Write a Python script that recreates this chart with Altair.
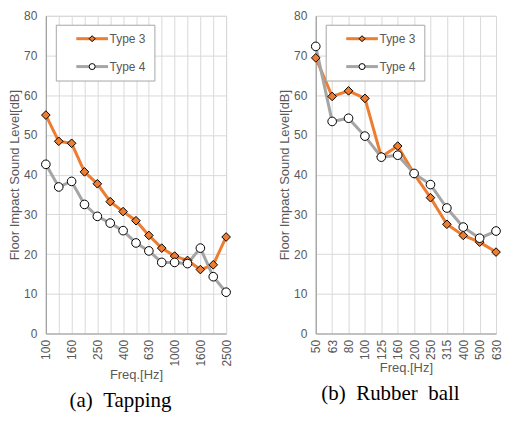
import altair as alt
import pandas as pd

# ---------------- data ----------------
series_names = ["Type 3", "Type 4"]
marker_keys = ["m3", "m4"]

tap_freq = ["100", "125", "160", "200", "250", "315", "400", "500",
            "630", "800", "1000", "1250", "1600", "2000", "2500"]
tap_type3 = [55.0, 48.4, 47.9, 40.7, 37.7, 33.2, 30.7, 28.4,
             24.7, 21.5, 19.5, 18.4, 16.1, 17.3, 24.3]
tap_type4 = [42.6, 36.9, 38.3, 32.5, 29.5, 27.8, 25.9, 22.8,
             20.8, 17.9, 17.9, 17.6, 21.5, 14.3, 10.4]
tap_labels = ["100", "160", "250", "400", "630", "1000", "1600", "2500"]

ball_freq = ["50", "63", "80", "100", "125", "160", "200", "250",
             "315", "400", "500", "630"]
ball_type3 = [69.4, 59.7, 61.1, 59.2, 44.5, 47.2, 40.2, 34.2,
              27.5, 24.7, 23.0, 20.5]
ball_type4 = [72.3, 53.4, 54.2, 49.7, 44.4, 44.9, 40.3, 37.5,
              31.6, 26.8, 24.0, 25.8]

y_ticks = [0, 10, 20, 30, 40, 50, 60, 70, 80]

line_colors = ["#ED7D31", "#A5A5A5"]
marker_fills = ["#ED7D31", "#FFFFFF"]
marker_edges = ["#000000", "#000000"]
marker_shapes = ["diamond", "circle"]

SANS = "Liberation Sans"
SERIF = "Liberation Serif"
TXT = "#595959"
NB = "\u00a0"


def panel(freqs, t3, t4, shown_labels, caption):
    n = len(freqs)
    df = pd.DataFrame({
        "freq": freqs + freqs,
        "level": t3 + t4,
        "series": [series_names[0]] * n + [series_names[1]] * n,
        "marker": [marker_keys[0]] * n + [marker_keys[1]] * n,
    })

    label_list = "[" + ",".join("'" + s + "'" for s in shown_labels) + "]"
    x = alt.X(
        "freq:O", sort=freqs,
        scale=alt.Scale(type="point", padding=0),
        axis=alt.Axis(
            title="Freq.[Hz]", labelAngle=270, grid=True, ticks=False,
            labelPadding=6, titlePadding=2,
            labelExpr=f"indexof({label_list}, datum.value) >= 0 ? datum.label : ''",
        ),
    )
    y = alt.Y(
        "level:Q", scale=alt.Scale(domain=[0, 80]),
        axis=alt.Axis(title="Floor Impact Sound Level[dB]", values=y_ticks,
                      grid=True, ticks=False, labelPadding=9, titlePadding=2),
    )
    common_leg = dict(orient="none", legendX=10, legendY=9, title=None,
                      padding=8, rowPadding=16, symbolSize=36,
                      symbolOffset=22.5, labelFont=SANS, labelFontSize=12,
                      labelOffset=11.5)
    # line part of the legend (drawn underneath, carries the box)
    line = alt.Chart(df).mark_line(strokeWidth=3).encode(
        x=x, y=y,
        color=alt.Color(
            "series:N",
            scale=alt.Scale(domain=series_names, range=line_colors),
            legend=alt.Legend(symbolType="M-5.3,0H5.3",
                              symbolStrokeWidth=3, labelColor=TXT,
                              strokeColor="#A6A6A6", fillColor="white",
                              labelExpr="datum.label + '" + NB * 3 + "'",
                              zindex=1, **common_leg),
        ),
    )
    # marker part of the legend (drawn on top, no box)
    marker_legend = alt.Legend(labelColor="transparent",
                               labelExpr="'" + NB + "'",
                               symbolStrokeWidth=1, zindex=2, **common_leg)
    pts = alt.Chart(df).mark_point(
        filled=True, strokeWidth=1, size=75, opacity=1
    ).encode(
        x=x, y=y,
        shape=alt.Shape("marker:N",
                        scale=alt.Scale(domain=marker_keys, range=marker_shapes),
                        legend=marker_legend),
        fill=alt.Fill("marker:N",
                      scale=alt.Scale(domain=marker_keys, range=marker_fills),
                      legend=marker_legend),
        stroke=alt.Stroke("marker:N",
                          scale=alt.Scale(domain=marker_keys, range=marker_edges),
                          legend=marker_legend),
    )
    return alt.layer(line, pts).properties(
        width=181, height=319,
        title=alt.TitleParams(caption, orient="bottom", anchor="middle",
                              frame="bounds", font=SERIF, fontSize=21,
                              fontWeight="normal", color="black", offset=9),
    )


left = panel(tap_freq, tap_type3, tap_type4, tap_labels,
             "(a)" + NB * 2 + "Tapping")
right = panel(ball_freq, ball_type3, ball_type4, ball_freq,
              "(b)" + NB * 2 + "Rubber" + NB * 2 + "ball")

chart = alt.hconcat(left, right, spacing=45).resolve_scale(
    x="independent", y="independent", color="independent",
    fill="independent", shape="independent", stroke="independent",
).resolve_legend(
    color="independent", fill="independent", shape="independent",
    stroke="independent",
).properties(
    padding={"left": 0, "top": 0, "right": 0, "bottom": 0}
).configure_axis(
    labelFont=SANS, titleFont=SANS, labelFontSize=12, titleFontSize=13,
    labelColor=TXT, titleColor=TXT, titleFontWeight="normal",
    gridColor="#D9D9D9", gridWidth=1, domainColor="#A0A0A0", domainWidth=1.2,
).configure_view(stroke="#D9D9D9")

chart.save("out.html", embed_options={"renderer": "svg", "actions": False})
